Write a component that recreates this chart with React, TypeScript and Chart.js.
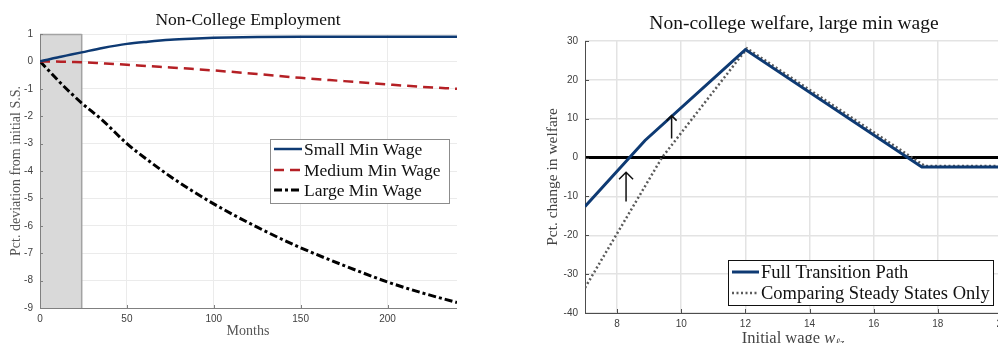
import { useEffect, useRef } from "react";
import { Chart, registerables } from "chart.js";

Chart.register(...registerables);

// ---- Non-College Employment (months after the policy change) ----
const months = [0, 6, 12, 18, 24, 36, 50, 62, 75, 87, 100, 125, 150, 175, 200, 220, 240];
const smallMinWage = [0, 0.09, 0.17, 0.25, 0.33, 0.49, 0.64, 0.72, 0.79, 0.83, 0.86, 0.89, 0.9, 0.9, 0.9, 0.9, 0.9];
const mediumMinWage = [0, -0.005, -0.01, -0.02, -0.03, -0.07, -0.12, -0.17, -0.22, -0.27, -0.33, -0.46, -0.6, -0.72, -0.84, -0.93, -1.0];
const largeMinWage = [0, -0.4, -0.8, -1.17, -1.52, -2.15, -3.0, -3.6, -4.2, -4.7, -5.2, -6.05, -6.8, -7.45, -8.05, -8.45, -8.8];
const employmentSeriesNames = ["Small Min Wage", "Medium Min Wage", "Large Min Wage"];
const monthTicks = [0, 50, 100, 150, 200];
const deviationTicks = [1, 0, -1, -2, -3, -4, -5, -6, -7, -8, -9];
const transitionWindow = [0, 24]; // shaded months

// ---- Non-college welfare, large min wage ----
const wageFullPath = [7, 8.87, 12, 17.5, 20];
const welfareFullPath = [-12.6, 4.4, 27.8, -2.4, -2.4];
const wageSteadyState = [7, 9.4, 12.05, 17.6, 20];
const welfareSteadyState = [-33.5, 0, 28.1, -2.2, -2.2];
const welfareSeriesNames = ["Full Transition Path", "Comparing Steady States Only"];
const wageTicks = [8, 10, 12, 14, 16, 18, 20];
const welfareTicks = [30, 20, 10, 0, -10, -20, -30, -40];
const arrowWage = [8.28, 9.7];
const arrowFrom = [-11.3, 4.9];
const arrowTo = [-3.8, 10.8];

const SERIF = '"Liberation Serif", "Times New Roman", serif';
const SANS = '"Liberation Sans", Arial, sans-serif';
const NAVY = "#0e3a73";
const RED = "#b52025";
const DOTTED_GRAY = "#5a5a5a";

const pts = (xs: number[], ys: number[]) => xs.map((x, i) => ({ x, y: ys[i] }));

type LegendBox = { x: number; y: number; w: number; h: number; rowY: number[]; border: string; font: string; sampleLen: number };

function drawLegend(chart: any, box: LegendBox, names: string[]) {
  const ctx = chart.ctx as CanvasRenderingContext2D;
  ctx.save();
  ctx.fillStyle = "#ffffff";
  ctx.fillRect(box.x, box.y, box.w, box.h);
  ctx.strokeStyle = box.border;
  ctx.lineWidth = 1;
  ctx.strokeRect(box.x + 0.5, box.y + 0.5, box.w - 1, box.h - 1);
  names.forEach((name, i) => {
    const ds = chart.data.datasets[i];
    const y = box.rowY[i];
    ctx.beginPath();
    ctx.strokeStyle = ds.borderColor;
    ctx.lineWidth = ds.borderWidth;
    ctx.setLineDash(ds.borderDash || []);
    ctx.moveTo(box.x + 4, y);
    ctx.lineTo(box.x + 4 + box.sampleLen, y);
    ctx.stroke();
    ctx.setLineDash([]);
    ctx.fillStyle = "#111";
    ctx.font = box.font;
    ctx.textBaseline = "middle";
    ctx.textAlign = "left";
    ctx.fillText(name, box.x + 6 + box.sampleLen, y + 1);
  });
  ctx.restore();
}

function drawAxes(chart: any, color: string, tickLen: number) {
  const ctx = chart.ctx as CanvasRenderingContext2D;
  const { left, bottom, top } = chart.chartArea;
  const xs = chart.scales.x;
  const ys = chart.scales.y;
  ctx.save();
  ctx.strokeStyle = color;
  ctx.lineWidth = 1;
  ctx.beginPath();
  ctx.moveTo(left + 0.5, top);
  ctx.lineTo(left + 0.5, bottom + 0.5);
  ctx.lineTo(chart.chartArea.right, bottom + 0.5);
  xs.ticks.forEach((t: any) => {
    const px = Math.round(xs.getPixelForValue(t.value)) + 0.5;
    ctx.moveTo(px, bottom);
    ctx.lineTo(px, bottom - tickLen);
  });
  ys.ticks.forEach((t: any) => {
    const py = Math.round(ys.getPixelForValue(t.value)) + 0.5;
    ctx.moveTo(left, py);
    ctx.lineTo(left + tickLen, py);
  });
  ctx.stroke();
  ctx.restore();
}

function EmploymentChart() {
  const ref = useRef<HTMLCanvasElement>(null);
  useEffect(() => {
    const decor = {
      id: "employmentDecor",
      beforeDatasetsDraw(chart: any) {
        const ctx = chart.ctx as CanvasRenderingContext2D;
        const { top, bottom } = chart.chartArea;
        const x0 = chart.scales.x.getPixelForValue(transitionWindow[0]);
        const x1 = chart.scales.x.getPixelForValue(transitionWindow[1]);
        ctx.save();
        ctx.fillStyle = "#d9d9d9";
        ctx.fillRect(x0, top, x1 - x0, bottom - top);
        ctx.strokeStyle = "#a3a3a3";
        ctx.lineWidth = 1.5;
        ctx.beginPath();
        ctx.moveTo(x1, top);
        ctx.lineTo(x1, bottom);
        ctx.moveTo(x0, top + 0.5);
        ctx.lineTo(x1, top + 0.5);
        ctx.stroke();
        ctx.restore();
        drawAxes(chart, "#808080", 3);
      },
      afterDraw(chart: any) {
        const ctx = chart.ctx as CanvasRenderingContext2D;
        ctx.save();
        ctx.fillStyle = "#111";
        ctx.textAlign = "center";
        ctx.textBaseline = "middle";
        ctx.font = `17.5px ${SERIF}`;
        ctx.fillText("Non-College Employment", 248, 20);
        ctx.font = `14px ${SERIF}`;
        ctx.fillStyle = "#555";
        ctx.fillText("Months", 248, 331);
        ctx.translate(16, 171);
        ctx.rotate(-Math.PI / 2);
        ctx.font = `14px ${SERIF}`;
        ctx.fillText("Pct. deviation from initial S.S.", 0, 0);
        ctx.restore();
        drawLegend(
          chart,
          { x: 270, y: 139, w: 180, h: 65, rowY: [149, 170, 190], border: "#8c8c8c", font: `17.5px ${SERIF}`, sampleLen: 28 },
          employmentSeriesNames
        );
      },
    };
    const chart = new Chart(ref.current!, {
      type: "line",
      data: {
        datasets: [
          { label: employmentSeriesNames[0], data: pts(months, smallMinWage), borderColor: NAVY, borderWidth: 2.5, pointRadius: 0, cubicInterpolationMode: "monotone", fill: false },
          { label: employmentSeriesNames[1], data: pts(months, mediumMinWage), borderColor: RED, borderWidth: 2.5, borderDash: [10, 6], pointRadius: 0, cubicInterpolationMode: "monotone", fill: false },
          { label: employmentSeriesNames[2], data: pts(months, largeMinWage), borderColor: "#000000", borderWidth: 3, borderDash: [8, 3, 3, 3], pointRadius: 0, cubicInterpolationMode: "monotone", fill: false },
        ],
      },
      options: {
        responsive: false,
        animation: false,
        layout: { padding: { left: 0, top: 34, right: 43, bottom: 0 } },
        plugins: { legend: { display: false }, title: { display: false }, tooltip: { enabled: false } },
        scales: {
          x: {
            type: "linear",
            min: 0,
            max: 240,
            afterBuildTicks: (s: any) => { s.ticks = monthTicks.map((v) => ({ value: v })); },
            afterFit: (s: any) => { s.height = 35; },
            grid: { color: "#ebebeb", lineWidth: 1, drawTicks: false },
            border: { display: false },
            ticks: { font: { family: SANS, size: 10 }, color: "#404040", padding: 5, maxRotation: 0 },
          },
          y: {
            type: "linear",
            min: -9,
            max: 1,
            afterBuildTicks: (s: any) => { s.ticks = deviationTicks.map((v) => ({ value: v })); },
            afterFit: (s: any) => { s.width = 40; },
            grid: { color: "#ebebeb", lineWidth: 1, drawTicks: false },
            border: { display: false },
            ticks: { font: { family: SANS, size: 10 }, color: "#404040", padding: 7 },
          },
        },
      },
      plugins: [decor],
    } as any);
    return () => chart.destroy();
  }, []);
  return <canvas ref={ref} width={500} height={343} style={{ position: "absolute", left: 0, top: 0, display: "block" }} />;
}

function WelfareChart() {
  const ref = useRef<HTMLCanvasElement>(null);
  useEffect(() => {
    const decor = {
      id: "welfareDecor",
      beforeDatasetsDraw(chart: any) {
        const ctx = chart.ctx as CanvasRenderingContext2D;
        const { left, right } = chart.chartArea;
        const y0 = chart.scales.y.getPixelForValue(0);
        ctx.save();
        ctx.strokeStyle = "#000";
        ctx.lineWidth = 3;
        ctx.beginPath();
        ctx.moveTo(left, y0);
        ctx.lineTo(right, y0);
        ctx.stroke();
        ctx.restore();
        drawAxes(chart, "#4d4d4d", 4);
      },
      afterDatasetsDraw(chart: any) {
        const ctx = chart.ctx as CanvasRenderingContext2D;
        ctx.save();
        ctx.strokeStyle = "#111";
        ctx.lineWidth = 1.5;
        arrowWage.forEach((w, i) => {
          const x = chart.scales.x.getPixelForValue(w);
          const yA = chart.scales.y.getPixelForValue(arrowFrom[i]);
          const yB = chart.scales.y.getPixelForValue(arrowTo[i]);
          const head = i === 0 ? 7 : 5;
          ctx.beginPath();
          ctx.moveTo(x, yA);
          ctx.lineTo(x, yB);
          ctx.moveTo(x - head, yB + head);
          ctx.lineTo(x, yB);
          ctx.lineTo(x + head, yB + head);
          ctx.stroke();
        });
        ctx.restore();
      },
      afterDraw(chart: any) {
        const ctx = chart.ctx as CanvasRenderingContext2D;
        ctx.save();
        ctx.fillStyle = "#111";
        ctx.textAlign = "center";
        ctx.textBaseline = "middle";
        ctx.font = `19.5px ${SERIF}`;
        ctx.fillText("Non-college welfare, large min wage", 294, 24);
        ctx.fillStyle = "#444";
        ctx.save();
        ctx.translate(53, 177);
        ctx.rotate(-Math.PI / 2);
        ctx.font = `15.5px ${SERIF}`;
        ctx.fillText("Pct. change in welfare", 0, 0);
        ctx.restore();
        // x axis title with italic subscripted symbol
        ctx.textAlign = "left";
        ctx.textBaseline = "alphabetic";
        const base = 343;
        const a = "Initial wage ";
        ctx.font = `16.5px ${SERIF}`;
        const wa = ctx.measureText(a).width;
        ctx.font = `italic 16.5px ${SERIF}`;
        const ww = ctx.measureText("w").width;
        ctx.font = `italic 11px ${SERIF}`;
        const ws = ctx.measureText("ℓz").width;
        let x = 293 - (wa + ww + ws) / 2;
        ctx.font = `16.5px ${SERIF}`;
        ctx.fillText(a, x, base);
        x += wa;
        ctx.font = `italic 16.5px ${SERIF}`;
        ctx.fillText("w", x, base);
        x += ww;
        ctx.font = `italic 11px ${SERIF}`;
        ctx.fillText("ℓz", x, base + 3);
        ctx.restore();
        drawLegend(
          chart,
          { x: 228, y: 260, w: 266, h: 46, rowY: [272, 293], border: "#111", font: `18.5px ${SERIF}`, sampleLen: 27 },
          welfareSeriesNames
        );
      },
    };
    const chart = new Chart(ref.current!, {
      type: "line",
      data: {
        datasets: [
          { label: welfareSeriesNames[0], data: pts(wageFullPath, welfareFullPath), borderColor: NAVY, borderWidth: 3, pointRadius: 0, tension: 0, fill: false },
          { label: welfareSeriesNames[1], data: pts(wageSteadyState, welfareSteadyState), borderColor: DOTTED_GRAY, borderWidth: 2.5, borderDash: [2, 2.5], pointRadius: 0, tension: 0, fill: false },
        ],
      },
      options: {
        responsive: false,
        animation: false,
        layout: { padding: { left: 0, top: 41, right: 18, bottom: 0 } },
        plugins: { legend: { display: false }, title: { display: false }, tooltip: { enabled: false } },
        scales: {
          x: {
            type: "linear",
            min: 7,
            max: 20,
            afterBuildTicks: (s: any) => { s.ticks = wageTicks.map((v) => ({ value: v })); },
            afterFit: (s: any) => { s.height = 30; },
            grid: { color: "#e3e3e3", lineWidth: 1.5, drawTicks: false },
            border: { display: false },
            ticks: { font: { family: SANS, size: 10 }, color: "#404040", padding: 5, maxRotation: 0 },
          },
          y: {
            type: "linear",
            min: -40,
            max: 30,
            afterBuildTicks: (s: any) => { s.ticks = welfareTicks.map((v) => ({ value: v })); },
            afterFit: (s: any) => { s.width = 85; },
            grid: { color: "#e3e3e3", lineWidth: 1.5, drawTicks: false },
            border: { display: false },
            ticks: { font: { family: SANS, size: 10 }, color: "#404040", padding: 7 },
          },
        },
      },
      plugins: [decor],
    } as any);
    return () => chart.destroy();
  }, []);
  return <canvas ref={ref} width={520} height={343} style={{ position: "absolute", left: 500, top: 0, display: "block" }} />;
}

export default function App() {
  return (
    <div style={{ position: "fixed", left: 0, top: 0, width: 998, height: 343, overflow: "hidden", background: "#fff" }}>
      <EmploymentChart />
      <WelfareChart />
    </div>
  );
}
